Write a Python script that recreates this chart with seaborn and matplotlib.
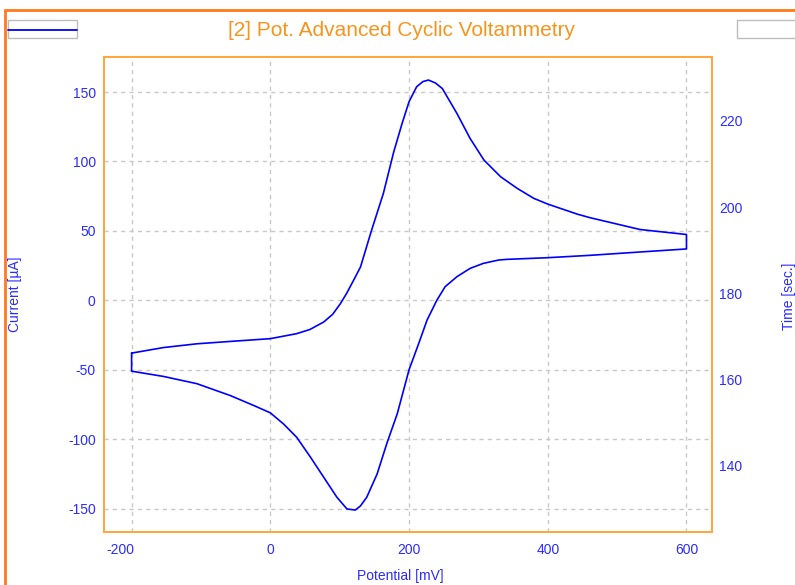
import matplotlib
matplotlib.use("Agg")
import matplotlib.pyplot as plt
import matplotlib.transforms as mtransforms
import seaborn as sns
import pandas as pd
from matplotlib.patches import Rectangle
from matplotlib.lines import Line2D

# ---- data ----
E_forward = [-200, -154, -106, -58, 0, 38, 57, 77, 90, 101, 110, 120, 130, 146, 163, 178,
             190, 200, 211, 220, 228, 238, 248, 269, 288, 308, 332, 356, 380, 400, 443, 461, 533, 600]
I_forward = [-38, -34, -31.3, -29.6, -27.6, -24, -21, -15.6, -10, -2.4, 5, 14.4, 24, 50.5, 77, 107,
             127.4, 143, 153.8, 157.5, 158.6, 156.5, 152.5, 134.6, 116.6, 101, 89, 80.6, 73.4, 69.3, 62, 59.5, 51, 47.4]
E_reverse = [600, 533, 461, 400, 341, 329, 307, 288, 269, 252, 240, 226, 214, 200, 183, 168, 154,
             139, 130, 122.5, 110.5, 96, 77, 58, 38, 19, 0, -24, -58, -106, -154, -200, -200]
I_reverse = [37, 34.8, 32.4, 30.7, 29.5, 29, 26.6, 23, 17, 9.8, 0, -14.2, -31, -50, -81.7, -103, -125,
             -141.8, -148, -151, -150.2, -141.8, -127.4, -113, -98.6, -89, -81, -75.7, -68.5, -60, -54.8, -51, -38]

x_ticks = [-200, 0, 200, 400, 600]
y_ticks = [-150, -100, -50, 0, 50, 100, 150]
t_ticks = [140, 160, 180, 200, 220]

title = "[2] Pot. Advanced Cyclic Voltammetry"
xlabel = "Potential [mV]"
ylabel = "Current [µA]"
y2label = "Time [sec.]"

df = pd.DataFrame({
    "E": E_forward + E_reverse,
    "I": I_forward + I_reverse,
})

sns.set_theme(style="white")
plt.rcParams["font.family"] = ["Liberation Sans", "DejaVu Sans"]

W, H = 795, 585
fig = plt.figure(figsize=(W / 100, H / 100), dpi=100)
fig.patch.set_facecolor("white")

L, R, T, B = 104, 712, 57, 532
ax = fig.add_axes([L / W, 1 - B / H, (R - L) / W, (B - T) / H])
ax.set_facecolor("white")

blue = "#0000FF"
label_blue = "#2B2BFF"
spine_orange = "#FFA53A"
frame_orange = "#FF7A1A"
title_orange = "#F7941D"

sns.lineplot(data=df, x="E", y="I", sort=False, estimator=None, ax=ax,
             color=blue, linewidth=1.2)

ax.set_xlim(-239.8, 636.8)
ax.set_ylim(-166.8, 175.2)
ax.set_xticks(x_ticks)
ax.set_yticks(y_ticks)
ax.set_xticklabels([str(v) for v in x_ticks])
ax.set_yticklabels([str(v) for v in y_ticks])
ax.set_xlabel("")
ax.set_ylabel("")
ax.tick_params(axis="both", length=0, colors=label_blue, labelsize=10)
ax.tick_params(axis="y", pad=6)
ax.tick_params(axis="x", pad=8)
ax.grid(True, color="#C8C8C8", linestyle=(0, (3, 3)), linewidth=1)
for s in ax.spines.values():
    s.set_color(spine_orange)
    s.set_linewidth(1.2)

# the reference draws the negative label slightly left of its tick
for lbl in ax.get_xticklabels():
    if lbl.get_text().startswith("-"):
        lbl.set_transform(lbl.get_transform() +
                          mtransforms.ScaledTranslation(-11 / 100, 0, fig.dpi_scale_trans))

ax2 = ax.twinx()
ax2.set_ylim(124.7, 234.8)
ax2.set_yticks(t_ticks)
ax2.set_yticklabels([str(v) for v in t_ticks])
ax2.tick_params(axis="y", length=0, colors=label_blue, labelsize=10, pad=5)
ax2.grid(False)
for s in ax2.spines.values():
    s.set_color(spine_orange)
    s.set_linewidth(1.2)

# texts
fig.text(401 / W, 1 - 30 / H, title, ha="center", va="center", color=title_orange, fontsize=15)
fig.text(400 / W, 1 - 576 / H, xlabel, ha="center", va="center", color=label_blue, fontsize=10)
fig.text(15 / W, 1 - 294 / H, ylabel, ha="center", va="center", rotation=90, color=label_blue, fontsize=10)
fig.text(789 / W, 1 - 296 / H, y2label, ha="center", va="center", rotation=90, color=label_blue, fontsize=10)

# window frame
fig.add_artist(Line2D([5 / W, 5 / W], [0, 1 - 10 / H], transform=fig.transFigure, color=frame_orange, linewidth=2))
fig.add_artist(Line2D([5 / W, 1], [1 - 10 / H, 1 - 10 / H], transform=fig.transFigure, color=frame_orange, linewidth=2))

# legend boxes
fig.add_artist(Rectangle((8 / W, 1 - 38 / H), 69 / W, 18 / H, transform=fig.transFigure,
                         facecolor="white", edgecolor="#BDBDBD", linewidth=1))
fig.add_artist(Line2D([8 / W, 77 / W], [1 - 30 / H, 1 - 30 / H], transform=fig.transFigure, color=blue, linewidth=1.3))
fig.add_artist(Rectangle((737 / W, 1 - 38 / H), 70 / W, 18 / H, transform=fig.transFigure,
                         facecolor="white", edgecolor="#BDBDBD", linewidth=1))

fig.savefig("out.png", dpi=100, facecolor="white")
